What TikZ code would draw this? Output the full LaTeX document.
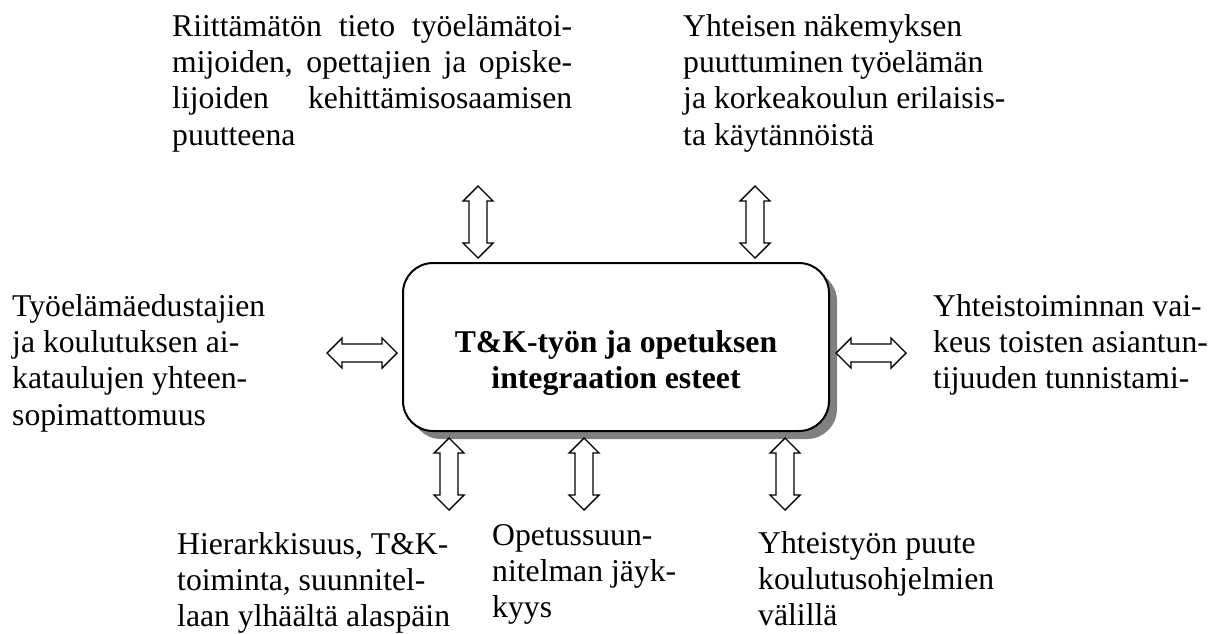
\documentclass[tikz,border=0pt]{standalone}
\usepackage{fontspec}
\setmainfont{Liberation Serif}
\usetikzlibrary{shadows}
\newcommand\jline[2]{\makebox[#1][s]{#2}}
\tikzset{
  arrowline/.style={draw=black, line width=1.4pt, fill=white, line join=miter},
  vdarrow/.pic={\path[arrowline] (0,-36) -- (15,-21) -- (9,-21) -- (9,21) -- (15,21) -- (0,36) -- (-15,21) -- (-9,21) -- (-9,-21) -- (-15,-21) -- cycle;},
  hdarrow/.pic={\path[arrowline] (-35,0) -- (-20,-15) -- (-20,-9) -- (20,-9) -- (20,-15) -- (35,0) -- (20,15) -- (20,9) -- (-20,9) -- (-20,15) -- cycle;},
  txt/.style={anchor=base west, inner sep=0pt},
  mainbox/.style={draw=black, line width=2pt, fill=white, rounded corners=30pt,
    minimum width=426pt, minimum height=168pt, inner sep=0pt,
    drop shadow={shadow xshift=8pt, shadow yshift=-8pt, fill=black!50, opacity=1}}
}
\begin{document}
\begin{tikzpicture}[x=1pt, y=-1pt, font=\fontsize{31.7}{36.4}\selectfont]
\useasboundingbox (0,0) rectangle (1219,633);
\fill[white] (0,0) rectangle (1219,633);
% central box
\node[mainbox] (main) at (616,347) {};
\node[anchor=base, inner sep=0pt] (title) at (616,352)
  {\parbox[t]{420pt}{\centering\bfseries T\&K-työn ja opetuksen\\integraation esteet}};
% labels
\node[txt] (tl) at (172,36) {\parbox[t]{400pt}{%
  \jline{400pt}{Riittämätön tieto työelämätoi-}\\
  \jline{400pt}{mijoiden, opettajien ja opiske-}\\
  \jline{400pt}{lijoiden kehittämisosaamisen}\\
  puutteena}};
\node[txt] (tr) at (683,36) {\parbox[t]{500pt}{\raggedright
  Yhteisen näkemyksen\\puuttuminen työelämän\\ja korkeakoulun erilaisis-\\ta käytännöistä}};
\node[txt] (lf) at (12,316) {\parbox[t]{400pt}{\raggedright
  Työelämäedustajien\\ja koulutuksen ai-\\kataulujen yhteen-\\sopimattomuus}};
\node[txt] (rt) at (933,316) {\parbox[t]{400pt}{\raggedright
  Yhteistoiminnan vai-\\keus toisten asiantun-\\tijuuden tunnistami-}};
\node[txt] (bl) at (177,554) {\parbox[t]{400pt}{\raggedright
  Hierarkkisuus, T\&K-\\toiminta, suunnitel-\\laan ylhäältä alaspäin}};
\node[txt] (bm) at (492,545) {\parbox[t]{400pt}{\raggedright
  Opetussuun-\\nitelman jäyk-\\kyys}};
\node[txt] (br) at (758,553) {\parbox[t]{400pt}{\raggedright
  Yhteistyön puute\\koulutusohjelmien\\välillä}};
% double arrows
\pic (a1) at (478,222) {vdarrow};
\pic (a2) at (755,222) {vdarrow};
\pic (a3) at (362,353) {hdarrow};
\pic (a4) at (871,353) {hdarrow};
\pic (a5) at (449,474) {vdarrow};
\pic (a6) at (584,474) {vdarrow};
\pic (a7) at (785,474) {vdarrow};
\end{tikzpicture}
\end{document}
